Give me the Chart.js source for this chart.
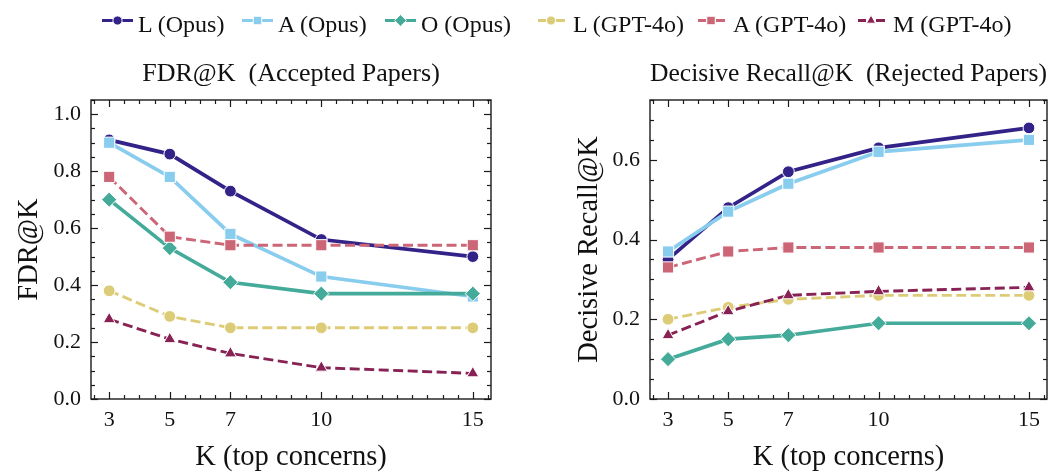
<!DOCTYPE html>
<html lang="en">
<head>
<meta charset="utf-8">
<script src="https://cdn.jsdelivr.net/npm/chart.js@4.4.1/dist/chart.umd.min.js"></script>
<style>
  body { margin: 0; background: #fff; }
  #wrap { position: relative; width: 1063px; height: 473px; font-family: 'Liberation Serif', serif; color: #111; }
  #left { position: absolute; left: 0; top: 0; }
  #right { position: absolute; left: 530px; top: 0; }
  .sym { position: absolute; top: 14px; }
  .lbl { position: absolute; top: 12px; font-size: 24px; line-height: 24px; white-space: nowrap; }
</style>
</head>
<body>
<div id="wrap">
  <canvas id="left" width="530" height="473"></canvas>
  <canvas id="right" width="533" height="473"></canvas>
  <div id="legend"></div>
</div>
<script>
    // x axis: K values and their tick labels
    const kValues = [3, 5, 7, 10, 15];
    const kTickLabels = ['3', '5', '7', '10', '15'];
    const fdrTicks = [0, 0.2, 0.4, 0.6, 0.8, 1.0];
    const recallTicks = [0, 0.2, 0.4, 0.6];

    const seriesNames = ['L (Opus)', 'A (Opus)', 'O (Opus)', 'L (GPT-4o)', 'A (GPT-4o)', 'M (GPT-4o)'];

    // FDR@K (Accepted Papers)
    const fdrLOpus = [0.91, 0.86, 0.73, 0.56, 0.50];
    const fdrAOpus = [0.90, 0.78, 0.58, 0.43, 0.36];
    const fdrOOpus = [0.70, 0.53, 0.41, 0.37, 0.37];
    const fdrLGpt  = [0.38, 0.29, 0.25, 0.25, 0.25];
    const fdrAGpt  = [0.78, 0.57, 0.54, 0.54, 0.54];
    const fdrMGpt  = [0.28, 0.21, 0.16, 0.11, 0.09];

    // Decisive Recall@K (Rejected Papers)
    const recLOpus = [0.35, 0.48, 0.57, 0.63, 0.68];
    const recAOpus = [0.37, 0.47, 0.54, 0.62, 0.65];
    const recOOpus = [0.10, 0.15, 0.16, 0.19, 0.19];
    const recLGpt  = [0.20, 0.23, 0.25, 0.26, 0.26];
    const recAGpt  = [0.33, 0.37, 0.38, 0.38, 0.38];
    const recMGpt  = [0.16, 0.22, 0.26, 0.27, 0.28];

    // styles
    const seriesColors = ['#332288', '#88CCEE', '#44AA99', '#DDCC77', '#CC6677', '#882255'];
    const seriesMarkers = ['circle', 'rect', 'rectRot', 'circle', 'rect', 'triangle'];
    const markerRadius = { circle: 5.9, rect: 7.9, rectRot: 7.6, triangle: 6.9 };
    const legendRadius = { circle: 4.6, rect: 6.0, rectRot: 5.9, triangle: 5.4 };
    const legendLeft = [102, 242, 385, 538, 698, 858];

    const serif = "'Liberation Serif', serif";
    Chart.defaults.color = '#111';
    Chart.defaults.font.family = serif;

    function makeDatasets(values) {
        return values.map((vals, i) => ({
            label: seriesNames[i],
            data: vals.map((v, j) => ({ x: kValues[j], y: v })),
            borderColor: seriesColors[i],
            backgroundColor: seriesColors[i],
            borderWidth: i < 3 ? 3.7 : 2.9,
            borderDash: i < 3 ? [] : [10, 4.5],
            pointStyle: seriesMarkers[i],
            pointRadius: markerRadius[seriesMarkers[i]],
            pointBackgroundColor: seriesColors[i],
            pointBorderColor: '#fff',
            pointBorderWidth: 1,
            tension: 0,
            order: values.length - i
        }));
    }

    function steps(min, max, step) {
        const out = [];
        for (let i = Math.ceil(min / step - 1e-9); i * step <= max + 1e-9; i++) out.push(+(i * step).toFixed(4));
        return out;
    }

    // box around the plot with inward major + minor ticks on all four sides
    const framePlugin = {
        id: 'frame',
        afterDatasetsDraw(chart, args, opts) {
            const { ctx, chartArea: a, scales: { x, y } } = chart;
            const isMajor = (v, list) => list.some(m => Math.abs(m - v) < 1e-6);
            const seg = (x1, y1, x2, y2) => { ctx.beginPath(); ctx.moveTo(x1, y1); ctx.lineTo(x2, y2); ctx.stroke(); };
            ctx.save();
            ctx.strokeStyle = '#1a1a1a';
            ctx.lineWidth = 1.2;
            steps(x.min, x.max, 0.5).forEach(v => {
                const len = isMajor(v, kValues) ? 7 : 4;
                const p = Math.round(x.getPixelForValue(v)) + 0.5;
                seg(p, a.bottom, p, a.bottom - len);
                seg(p, a.top, p, a.top + len);
            });
            steps(y.min, y.max, 0.05).forEach(v => {
                const len = isMajor(v, opts.yMajor) ? 7 : 4;
                const p = Math.round(y.getPixelForValue(v)) + 0.5;
                seg(a.left, p, a.left + len, p);
                seg(a.right, p, a.right - len, p);
            });
            ctx.lineWidth = 1.4;
            ctx.strokeRect(a.left, a.top, a.right - a.left, a.bottom - a.top);
            ctx.restore();
        }
    };

    function makeChart(id, values, o) {
        return new Chart(document.getElementById(id), {
            type: 'line',
            data: { datasets: makeDatasets(values) },
            plugins: [framePlugin],
            options: {
                responsive: false,
                animation: false,
                events: [],
                layout: { padding: { top: 40, right: o.padRight, left: 0, bottom: 0 } },
                plugins: {
                    legend: { display: false },
                    tooltip: { enabled: false },
                    title: {
                        display: true,
                        fullSize: false,
                        text: o.title,
                        color: '#111',
                        font: { size: 26, weight: 'normal', lineHeight: 1.2 },
                        padding: { top: 18.4, bottom: 10.4 }
                    },
                    frame: { yMajor: o.yTicks }
                },
                scales: {
                    x: {
                        type: 'linear',
                        min: 2.4,
                        max: 15.6,
                        afterBuildTicks: s => { s.ticks = kValues.map(v => ({ value: v })); },
                        afterFit: s => { s.height = 74; },
                        grid: { display: false, drawTicks: false },
                        border: { display: false },
                        ticks: {
                            padding: 8,
                            font: { size: 22 },
                            color: '#111',
                            callback: v => kTickLabels[kValues.indexOf(v)]
                        },
                        title: {
                            display: true,
                            text: 'K (top concerns)',
                            color: '#111',
                            font: { size: 28.5, lineHeight: 1.0 },
                            padding: { top: 0, bottom: 1 }
                        }
                    },
                    y: {
                        min: 0,
                        max: o.yMax,
                        afterBuildTicks: s => { s.ticks = o.yTicks.map(v => ({ value: v })); },
                        afterFit: s => { s.width = o.yWidth; },
                        grid: { display: false, drawTicks: false },
                        border: { display: false },
                        ticks: {
                            padding: 10,
                            font: { size: 22 },
                            color: '#111',
                            callback: v => v.toFixed(1)
                        },
                        title: {
                            display: true,
                            text: o.yTitle,
                            color: '#111',
                            font: { size: 28.5, lineHeight: 1.0 },
                            padding: { top: o.yTitlePad, bottom: 0 }
                        }
                    }
                }
            }
        });
    }

    makeChart('left',
        [fdrLOpus, fdrAOpus, fdrOOpus, fdrLGpt, fdrAGpt, fdrMGpt],
        { title: 'FDR@K  (Accepted Papers)', yTitle: 'FDR@K', yMax: 1.05, yTicks: fdrTicks,
          yWidth: 91, padRight: 39, yTitlePad: 15.5 });

    makeChart('right',
        [recLOpus, recAOpus, recOOpus, recLGpt, recAGpt, recMGpt],
        { title: 'Decisive Recall@K  (Rejected Papers)', yTitle: 'Decisive Recall@K', yMax: 0.75, yTicks: recallTicks,
          yWidth: 120, padRight: 16, yTitlePad: 45.5 });

    // shared legend across the top: line + marker symbol, then the label
    const legend = document.getElementById('legend');
    seriesNames.forEach((name, i) => {
        const c = document.createElement('canvas');
        c.width = 32; c.height = 13;
        c.className = 'sym';
        c.style.left = legendLeft[i] + 'px';
        const g = c.getContext('2d');
        g.strokeStyle = seriesColors[i];
        g.lineWidth = 3;
        g.beginPath();
        if (i < 3) {
            g.moveTo(0, 6.5); g.lineTo(31, 6.5);
        } else {
            g.moveTo(0, 6.5); g.lineTo(8, 6.5);
            g.moveTo(18, 6.5); g.lineTo(27, 6.5);
        }
        g.stroke();
        g.fillStyle = seriesColors[i];
        g.strokeStyle = '#fff';
        g.lineWidth = 1;
        Chart.helpers.drawPoint(g, { pointStyle: seriesMarkers[i], radius: legendRadius[seriesMarkers[i]], rotation: 0, borderWidth: 1 },
            i < 3 ? 15.5 : 13, 6.5);
        legend.appendChild(c);

        const t = document.createElement('span');
        t.className = 'lbl';
        t.textContent = name;
        t.style.left = (legendLeft[i] + (i < 3 ? 36 : 35)) + 'px';
        legend.appendChild(t);
    });
</script>
</body>
</html>
